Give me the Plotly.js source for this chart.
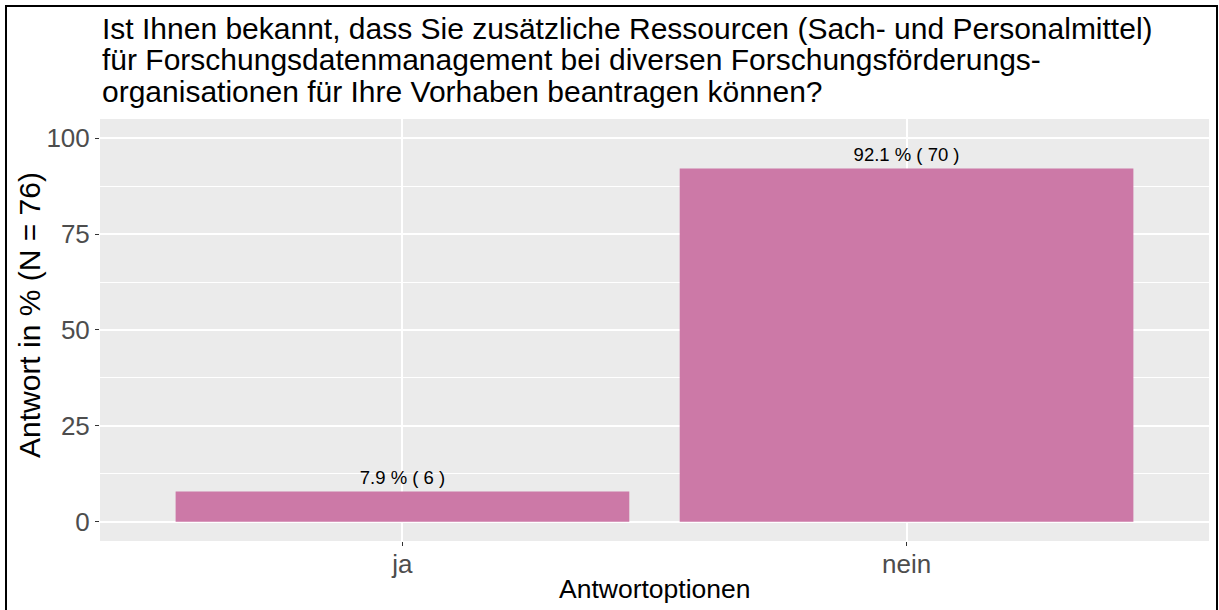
<!DOCTYPE html>
<html>
<head>
<meta charset="utf-8">
<script src="https://cdn.plot.ly/plotly-3.0.1.min.js"></script>
<style>
  html, body { margin: 0; padding: 0; background: #fff; overflow: hidden; }
  #chart { width: 1219px; height: 610px; }
  #frame {
    position: absolute; left: 5px; top: 5px; width: 1209px; height: 640px;
    border-left: 2px solid #000; border-top: 2px solid #000; border-right: 2px solid #000;
    pointer-events: none;
  }
</style>
</head>
<body>
<div id="chart"></div>
<div id="frame"></div>
<script>
// Answer options, share in percent and absolute counts
const categories = ["ja", "nein"];
const percentages = [7.9, 92.1];
const counts = [6, 70];
const yTicks = [0, 25, 50, 75, 100];

// Question text, one entry per printed line
const titleLines = [
  "Ist Ihnen bekannt, dass Sie zusätzliche Ressourcen (Sach- und Personalmittel)",
  "für Forschungsdatenmanagement bei diversen Forschungsförderungs-",
  "organisationen für Ihre Vorhaben beantragen können?"
];

const barLabels = percentages.map((p, i) => p + " % ( " + counts[i] + " )");

const FONT = "Liberation Sans, Arial, Helvetica, sans-serif";

// plot area in pixels
const PLOT_L = 100, PLOT_R = 1209, PLOT_T = 119, PLOT_B = 541;
const pxX = px => (px - PLOT_L) / (PLOT_R - PLOT_L);
const pxY = px => (PLOT_B - px) / (PLOT_B - PLOT_T);

const trace = {
  type: "bar",
  x: categories,
  y: percentages,
  width: 0.9,
  marker: { color: "#CC79A7", line: { width: 0 } },
  text: barLabels,
  textposition: "outside",
  textfont: { family: FONT, size: 18.5, color: "#000000" },
  cliponaxis: false,
  hoverinfo: "x+y"
};

const titleSize = 30;
const titleBaselines = [37.5, 68.5, 100];
const titleAnnotations = titleLines.map((line, i) => ({
  text: line,
  xref: "paper", yref: "paper",
  x: pxX(100), y: pxY(titleBaselines[i] - 0.3 * titleSize),
  xanchor: "left", yanchor: "middle",
  showarrow: false,
  font: { family: FONT, size: titleSize, color: "#000000" }
}));

const layout = {
  width: 1219,
  height: 610,
  margin: { l: PLOT_L, r: 1219 - PLOT_R, t: PLOT_T, b: 610 - PLOT_B },
  paper_bgcolor: "#FFFFFF",
  plot_bgcolor: "#EBEBEB",
  showlegend: false,
  font: { family: FONT },
  xaxis: {
    type: "category",
    range: [-0.6, 1.6],
    showgrid: true,
    gridcolor: "#FFFFFF",
    gridwidth: 2,
    zeroline: false,
    showline: false,
    ticks: "outside",
    ticklen: 4,
    tickwidth: 1.1,
    tickcolor: "#333333",
    tickfont: { family: FONT, size: 26, color: "#4D4D4D" },
    ticklabelstandoff: -4,
    fixedrange: true
  },
  yaxis: {
    range: [-5.03, 105.0],
    tickvals: yTicks,
    ticktext: yTicks.map(String),
    showgrid: true,
    gridcolor: "#FFFFFF",
    gridwidth: 2,
    zeroline: false,
    showline: false,
    ticks: "outside",
    ticklen: 4,
    tickwidth: 1.1,
    tickcolor: "#333333",
    tickfont: { family: FONT, size: 26, color: "#4D4D4D" },
    ticklabelstandoff: 0,
    minor: {
      tickvals: [12.5, 37.5, 62.5, 87.5],
      showgrid: true,
      gridcolor: "#FFFFFF",
      gridwidth: 1,
      ticks: ""
    },
    fixedrange: true
  },
  annotations: titleAnnotations.concat([
    {
      text: "Antwort in % (N = 76)",
      textangle: -90,
      xref: "paper", yref: "paper",
      x: pxX(29), y: pxY(315),
      xanchor: "center", yanchor: "middle",
      showarrow: false,
      font: { family: FONT, size: 30, color: "#000000" }
    },
    {
      text: "Antwortoptionen",
      xref: "paper", yref: "paper",
      x: 0.5, y: pxY(589),
      xanchor: "center", yanchor: "middle",
      showarrow: false,
      font: { family: FONT, size: 26.5, color: "#000000" }
    }
  ])
};

Plotly.newPlot("chart", [trace], layout, { displayModeBar: false, staticPlot: true });
</script>
</body>
</html>
